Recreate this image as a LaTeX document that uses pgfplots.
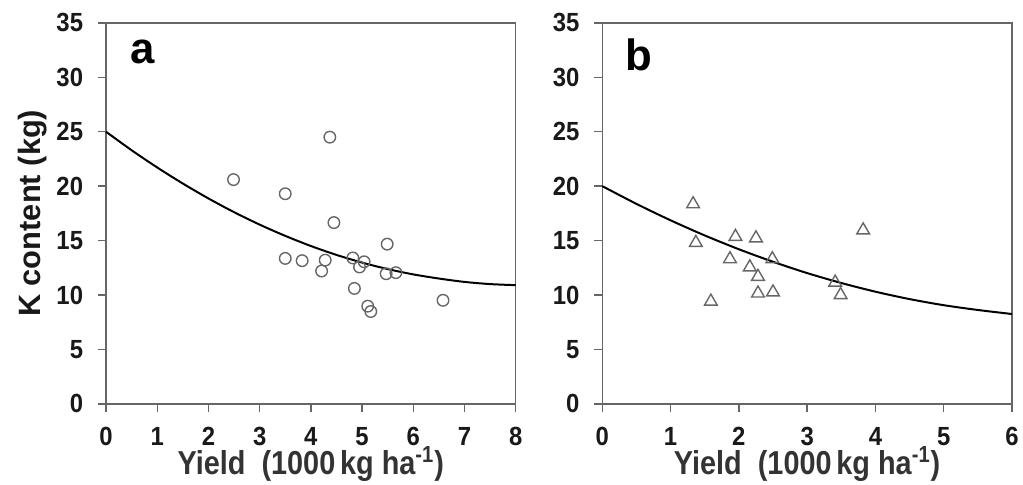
\documentclass[border=0pt]{standalone}
\usepackage{pgfplots}
\pgfplotsset{compat=1.18}
\usepackage{fontspec}
\setmainfont{Liberation Sans}
\begin{document}
\pgfplotsset{
  panel/.style={
    scale only axis, width=206pt, height=191.5pt,
    ymin=0, ymax=35, ytick={0,5,...,35},
    axis line style={draw=black!60, line width=0.7pt},
    tick style={draw=black!60, line width=0.7pt},
    tick align=outside, major tick length=4pt,
    xtick pos=bottom, ytick pos=left,
    /pgf/number format/assume math mode=true,
    ticklabel style={font=\fontsize{12}{14}\selectfont\bfseries, text=black!90, yscale=1.1},
    xticklabel style={yshift=-3.5pt},
    yticklabel style={xshift=-4pt},
    xlabel style={font=\fontsize{14.5}{17}\selectfont\bfseries, text=black!80, yscale=1.15, at={(axis description cs:0.5,-0.158)}, anchor=center},
    clip=false,
  }
}
\begin{tikzpicture}
\path[use as bounding box] (-50.5pt,-40.5pt) rectangle (461pt,203pt);
\begin{axis}[panel, at={(0pt,0pt)}, anchor=south west,
  xmin=0, xmax=8, xtick={0,1,...,8},
  xlabel={Yield\ \ (1000\,kg ha\textsuperscript{-1})},
  ylabel={K content (kg)},
  ylabel style={font=\fontsize{15.5}{18}\selectfont\bfseries, text=black!90, at={(axis description cs:-0.18,0.5)}, anchor=center, rotate=0},
]
\addplot[black, line width=1pt, smooth] coordinates {
(0,25) (0.5,23.30) (1,21.715) (1.5,20.24) (2,18.87) (2.5,17.61) (3,16.465) (3.5,15.43) (4,14.50) (4.5,13.68) (5,12.975) (5.5,12.38) (6,11.89) (6.5,11.51) (7,11.20) (7.5,11.0) (8,10.9)};
\addplot[only marks, mark=o, mark size=2.9pt, mark options={draw=black!60, line width=0.7pt}] coordinates {
(2.49,20.6) (4.37,24.5) (3.50,19.3) (4.45,16.65) (5.49,14.67) (3.50,13.36) (3.83,13.15) (4.28,13.2) (4.21,12.2) (4.82,13.4) (4.95,12.57) (5.04,13.05) (4.85,10.6) (5.11,8.97) (5.17,8.48) (5.47,11.95) (5.66,12.05) (6.58,9.51)};
\node[font=\fontsize{22}{24}\selectfont\bfseries, anchor=center] at (axis cs:0.72,32.3) {a};
\end{axis}
\begin{axis}[panel, at={(249.5pt,0pt)}, anchor=south west,
  xmin=0, xmax=6, xtick={0,1,...,6},
  xlabel={Yield\ \ (1000\,kg ha\textsuperscript{-1})},
]
\addplot[black, line width=1pt, smooth] coordinates {
(0,20) (0.5,18.37) (1,16.86) (1.5,15.47) (2,14.2) (2.5,13.05) (3,12.01) (3.5,11.10) (4,10.30) (4.5,9.62) (5,9.06) (5.5,8.62) (6,8.25)};
\addplot[only marks, mark=triangle, mark size=3.7pt, mark options={draw=black!60, line width=0.7pt}] coordinates {
(1.33,18.35) (1.37,14.8) (1.59,9.4) (1.95,15.35) (1.87,13.3) (2.25,15.22) (2.16,12.55) (2.28,11.68) (2.28,10.15) (2.49,13.3) (2.50,10.25) (3.41,11.15) (3.49,10.0) (3.82,15.95)};
\node[font=\fontsize{22}{24}\selectfont\bfseries, anchor=center] at (axis cs:0.53,32.1) {b};
\end{axis}
\end{tikzpicture}
\end{document}
